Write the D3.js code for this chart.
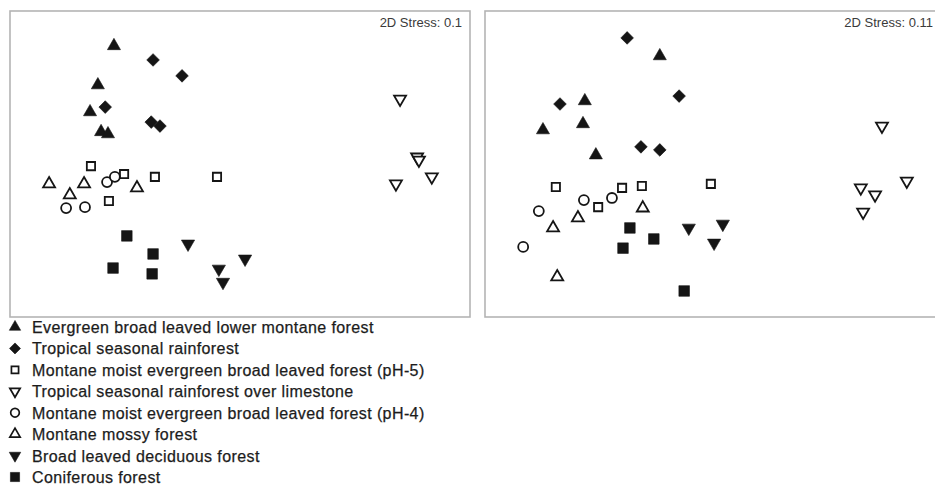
<!DOCTYPE html>
<meta charset="utf-8">
<script src="https://d3js.org/d3.v7.min.js"></script>
<style>
  body { margin: 0; background: #fff; }
  text { font-family: Arial, "Liberation Sans", sans-serif; }
</style>
<body>
<div id="chart"></div>
<script>
// forest types, in legend order
var groups = [
  "Evergreen broad leaved lower montane forest",
  "Tropical seasonal rainforest",
  "Montane moist evergreen broad leaved forest (pH-5)",
  "Tropical seasonal rainforest over limestone",
  "Montane moist evergreen broad leaved forest (pH-4)",
  "Montane mossy forest",
  "Broad leaved deciduous forest",
  "Coniferous forest"
];

// NMDS ordination (0-100 along each axis)
// left panel, stress 0.1
var leftX = [
  [22.6, 19.1, 17.4, 19.8, 21.3],
  [31.1, 37.4, 20.7, 30.7, 32.6],
  [17.6, 24.8, 31.5, 45.0, 21.5],
  [84.8, 88.5, 88.9, 83.9, 91.7],
  [21.1, 22.8, 12.2, 16.3],
  [8.5, 16.1, 13.0, 27.6],
  [38.7, 51.1, 45.4, 46.3],
  [25.4, 31.1, 22.4, 30.9]
];
var leftY = [
  [88.6, 75.8, 67.0, 60.5, 59.8],
  [84.0, 78.8, 68.6, 63.7, 62.4],
  [49.3, 46.7, 45.8, 45.8, 37.9],
  [71.2, 52.3, 51.3, 43.5, 45.8],
  [44.1, 45.8, 35.6, 35.9],
  [43.5, 43.5, 39.9, 42.2],
  [23.9, 19.0, 15.7, 11.4],
  [26.5, 20.6, 16.0, 14.1]
];
// right panel, stress 0.11
var rightX = [
  [38.0, 21.7, 12.6, 21.3, 24.1],
  [30.9, 16.3, 42.2, 33.9, 38.0],
  [15.4, 29.8, 34.1, 49.1, 24.6],
  [86.3, 81.7, 84.8, 91.7, 82.2],
  [21.5, 27.6, 11.7, 8.3],
  [34.3, 20.2, 14.8, 15.7],
  [44.3, 51.7, 49.8],
  [31.5, 36.7, 30.0, 43.3]
];
var rightY = [
  [85.3, 70.6, 61.1, 63.1, 52.9],
  [91.2, 69.6, 72.2, 55.6, 54.6],
  [42.5, 42.2, 42.8, 43.5, 35.9],
  [62.4, 42.2, 39.9, 44.4, 34.3],
  [38.2, 38.9, 34.6, 22.9],
  [35.6, 32.4, 29.1, 13.1],
  [29.1, 30.4, 24.2],
  [29.1, 25.5, 22.5, 8.5]
];
var stressLabels = ["2D Stress: 0.1", "2D Stress: 0.11"];

var W = 935, H = 485;
var pw = 460, ph = 306;

var svg = d3.select("#chart").append("svg")
    .attr("width", W)
    .attr("height", H);

// marker look for each group
var ink = "#151515";
var markers = [
  {type: d3.symbolTriangle, size: 74, rot: 0,   fill: true},
  {type: d3.symbolSquare,   size: 80, rot: 45,  fill: true},
  {type: d3.symbolSquare,   size: 68, rot: 0,   fill: false},
  {type: d3.symbolTriangle, size: 62, rot: 180, fill: false},
  {type: d3.symbolCircle,   size: 78, rot: 0,   fill: false},
  {type: d3.symbolTriangle, size: 62, rot: 0,   fill: false},
  {type: d3.symbolTriangle, size: 76, rot: 180, fill: true},
  {type: d3.symbolSquare,   size: 112, rot: 0,  fill: true}
];

function drawPanel(left, top, xs, ys, label, labelRight) {
  var g = svg.append("g").attr("transform", "translate(" + left + "," + top + ")");

  var x = d3.scaleLinear().domain([0, 100]).range([0, pw]);
  var y = d3.scaleLinear().domain([0, 100]).range([ph, 0]);

  g.append("rect")
      .attr("width", pw)
      .attr("height", ph)
      .attr("fill", "white")
      .attr("stroke", "#b4b4b4")
      .attr("stroke-width", 1.6);

  g.append("text")
      .attr("x", labelRight)
      .attr("y", 16)
      .attr("text-anchor", "end")
      .attr("font-size", "13px")
      .attr("fill", "#3a3a3a")
      .text(label);

  var pts = [];
  groups.forEach(function(name, gi) {
    xs[gi].forEach(function(v, k) {
      pts.push({g: gi, x: v, y: ys[gi][k]});
    });
  });

  g.selectAll("path.pt")
    .data(pts)
    .enter()
    .append("path")
      .attr("class", "pt")
      .attr("d", function(d) { return d3.symbol().type(markers[d.g].type).size(markers[d.g].size)(); })
      .attr("transform", function(d) {
        return "translate(" + x(d.x) + "," + y(d.y) + ") rotate(" + markers[d.g].rot + ")";
      })
      .attr("fill", function(d) { return markers[d.g].fill ? ink : "white"; })
      .attr("stroke", ink)
      .attr("stroke-width", function(d) { return markers[d.g].fill ? 0.6 : 1.8; });
}

drawPanel(10, 11, leftX, leftY, stressLabels[0], pw - 8);
drawPanel(485, 11, rightX, rightY, stressLabels[1], 448);

// legend
var legend = svg.append("g").attr("transform", "translate(0,327)");
var ly = d3.scalePoint().domain(groups).range([0, 150]);

var rows = legend.selectAll("g.row")
  .data(groups)
  .enter()
  .append("g")
    .attr("class", "row")
    .attr("transform", function(d) { return "translate(0," + ly(d) + ")"; });

rows.append("path")
    .attr("d", function(d, i) { return d3.symbol().type(markers[i].type).size(markers[i].size * 0.75)(); })
    .attr("transform", function(d, i) { return "translate(15,0) rotate(" + markers[i].rot + ")"; })
    .attr("fill", function(d, i) { return markers[i].fill ? ink : "white"; })
    .attr("stroke", ink)
    .attr("stroke-width", function(d, i) { return markers[i].fill ? 0.6 : 1.7; });

rows.append("text")
    .attr("x", 32)
    .attr("y", 6)
    .attr("font-size", "16px")
    .attr("letter-spacing", "0.4px")
    .attr("fill", "#1c1c1c")
    .attr("stroke", "#1c1c1c")
    .attr("stroke-width", 0.25)
    .text(function(d) { return d; });
</script>
</body>
